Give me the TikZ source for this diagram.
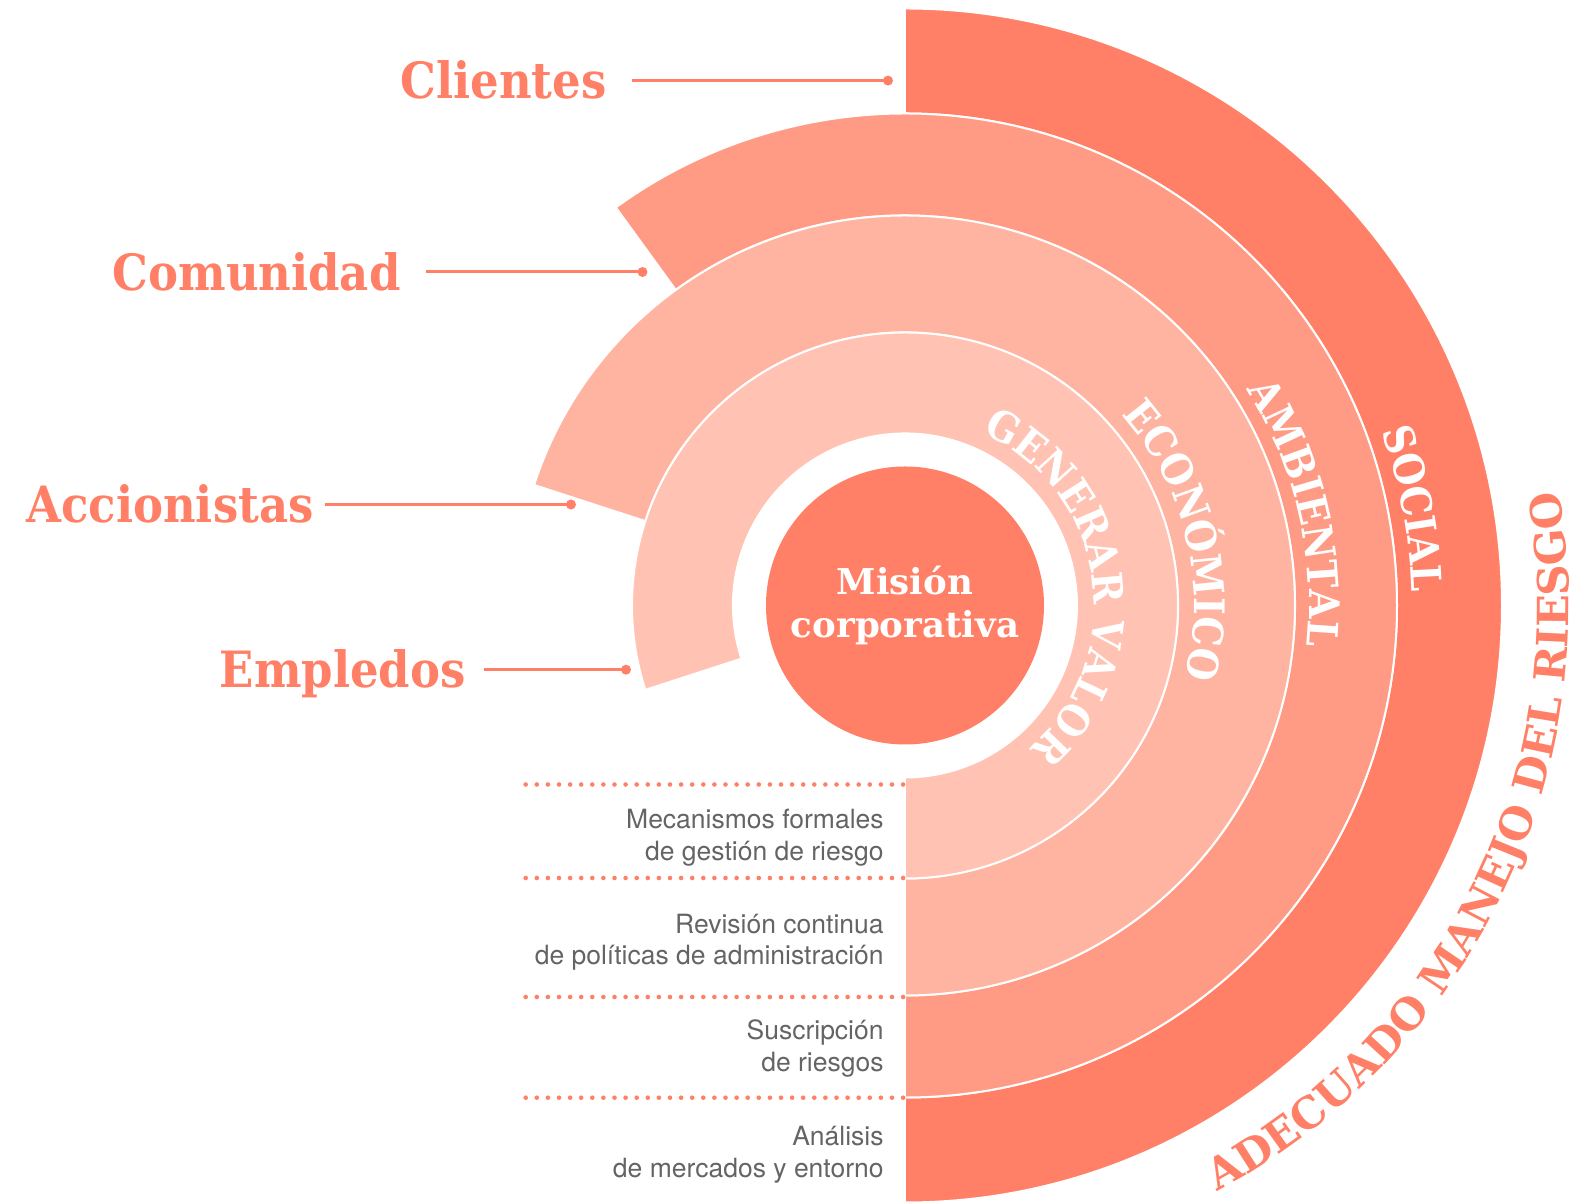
\documentclass[tikz,border=0pt]{standalone}
\usepackage{fontspec}
\setsansfont{TeX Gyre Heros}
\newfontfamily\slab{DejaVu Serif Bold}
\newfontfamily\slabc{DejaVu Serif Condensed Bold}
\usetikzlibrary{decorations.text,positioning}
\definecolor{coral}{RGB}{255,128,102}
\definecolor{ambiental}{RGB}{255,155,132}
\definecolor{economico}{RGB}{255,180,162}
\definecolor{generar}{RGB}{255,194,179}
\definecolor{bodygray}{RGB}{100,100,100}

\begin{document}
\begin{tikzpicture}[x=0.5pt, y=0.5pt,
  band/.style={fill=#1, draw=white, line width=1pt},
  lbl/.style={font=\slabc\fontsize{25}{27}\selectfont, text=coral, inner sep=0pt,
              text height=18.2pt, text depth=0pt, anchor=east},
  lead/.style={draw=coral, line width=1.5pt},
  enddot/.style={circle, fill=coral, inner sep=0pt, minimum size=5pt},
  riskline/.style={font=\sffamily\fontsize{13.25}{15.85}\selectfont, text=bodygray,
                   align=right, inner sep=0pt, anchor=base east},
  dotrow/.style={draw=coral, line width=2.3pt, line cap=round, dash pattern=on 0pt off 5.55pt},
  bandtext/.style={decorate, decoration={text along path, text align=center, text color=white,
                   text={|\slabc\fontsize{21}{23}\selectfont|#1}}}
]
  \useasboundingbox (-905,-596.5) rectangle (674,605.5);

  % bands, outside in
  \path[band=coral] (90:492) arc[start angle=90, end angle=-90, radius=492]
    -- (-90:597) arc[start angle=-90, end angle=90, radius=597] -- cycle;
  \path[band=ambiental] (126:390) arc[start angle=126, end angle=-90, radius=390]
    -- (-90:492) arc[start angle=-90, end angle=126, radius=492] -- cycle;
  \path[band=economico] (162:273) arc[start angle=162, end angle=-90, radius=273]
    -- (-90:390) arc[start angle=-90, end angle=162, radius=390] -- cycle;
  \path[band=generar] (198:172) arc[start angle=198, end angle=-90, radius=172]
    -- (-90:273) arc[start angle=-90, end angle=198, radius=273] -- cycle;

  \node[circle, fill=coral, minimum size=139pt, inner sep=0pt, text=white, align=center,
        font=\slab\fontsize{17.8}{21.3}\selectfont] (mision) at (0,0) {Misión\\corporativa};

  % curved band titles
  \path[bandtext={GENERAR VALOR}] (108.5:189) arc[start angle=108.5, end angle=-91.5, radius=189];
  \path[bandtext={ECONÓMICO}] (83.5:289) arc[start angle=83.5, end angle=-56.5, radius=289];
  \path[bandtext={AMBIENTAL}] (83.3:404) arc[start angle=83.3, end angle=-56.7, radius=404];
  \path[bandtext={SOCIAL}] (80.8:507) arc[start angle=80.8, end angle=-59.2, radius=507];
  \path[decorate, decoration={text along path, text align=center, text color=coral,
        text={|\slab\fontsize{21.5}{24}\selectfont|ADECUADO MANEJO DEL RIESGO}}]
    (-86:664) arc[start angle=-86, end angle=34, radius=664];

  % stakeholders
  \node[lbl] (clientes) at (-298,524.9) {Clientes};
  \node[enddot] (clientesdot) at (-17,524.9) {};
  \draw[lead] ([xshift=12.5pt]clientes.east) -- (clientesdot.center);

  \node[lbl] (comunidad) at (-504,333.5) {Comunidad};
  \node[enddot] (comunidaddot) at (-262.5,333.5) {};
  \draw[lead] ([xshift=12.5pt]comunidad.east) -- (comunidaddot.center);

  \node[lbl] (accionistas) at (-591,101) {Accionistas};
  \node[enddot] (accionistasdot) at (-334,101) {};
  \draw[lead] ([xshift=5.5pt]accionistas.east) -- (accionistasdot.center);

  \node[lbl] (empledos) at (-439,-64.2) {Empledos};
  \node[enddot] (empledosdot) at (-279,-64.2) {};
  \draw[lead] ([xshift=9pt]empledos.east) -- (empledosdot.center);

  % risk management rows
  \draw[dotrow] (-379.3,-179) -- (0,-179);
  \draw[dotrow] (-379.3,-272.5) -- (0,-272.5);
  \draw[dotrow] (-379.3,-391.5) -- (0,-391.5);
  \draw[dotrow] (-379.3,-492.2) -- (0,-492.2);

  \node[riskline] (mecanismos) at (-21,-255.2) {Mecanismos formales\\de gestión de riesgo};
  \node[riskline] (revision) at (-21,-359.5) {Revisión continua\\de políticas de administración};
  \node[riskline] (suscripcion) at (-21,-466.2) {Suscripción\\de riesgos};
  \node[riskline] (analisis) at (-21,-571.8) {Análisis\\de mercados y entorno};
\end{tikzpicture}
\end{document}
